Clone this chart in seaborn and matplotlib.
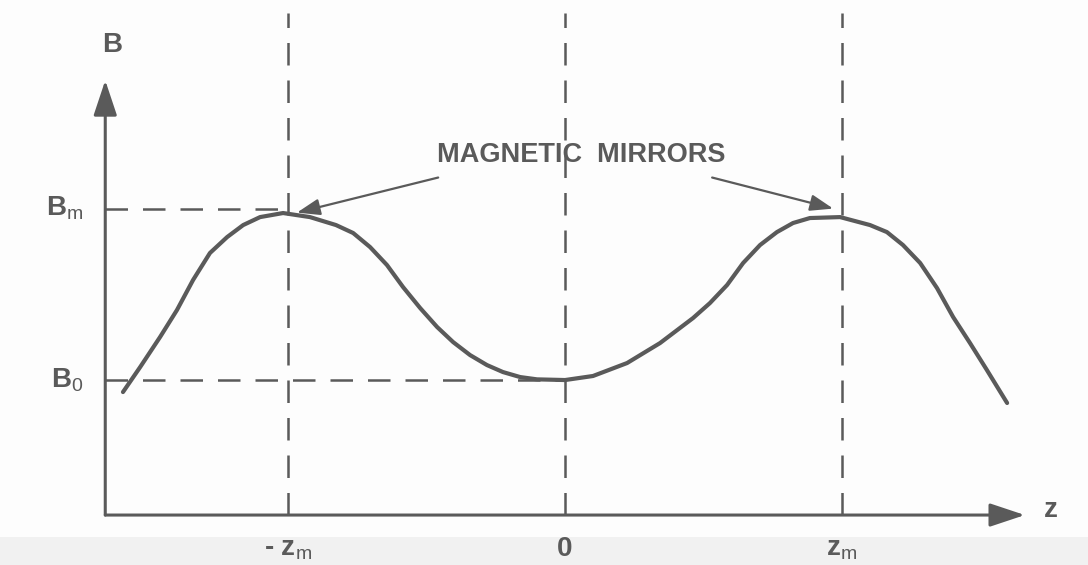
import numpy as np
import pandas as pd
import matplotlib
matplotlib.use("Agg")
import matplotlib.pyplot as plt
from matplotlib.patches import Rectangle
import seaborn as sns

# field profile B(z) (z in units of z_m, B in units of B_0)
z_vals = [-1.596, -1.534, -1.462, -1.401, -1.343, -1.282, -1.220, -1.162, -1.101,
          -1.018, -0.921, -0.827, -0.765, -0.704, -0.643, -0.585, -0.523, -0.462,
          -0.404, -0.343, -0.282, -0.224, -0.162, -0.101, 0.000, 0.101, 0.224,
          0.343, 0.462, 0.523, 0.585, 0.643, 0.704, 0.765, 0.823, 0.884, 0.993,
          1.101, 1.162, 1.220, 1.282, 1.343, 1.401, 1.462, 1.523, 1.596]
b_vals = [0.911, 1.096, 1.319, 1.519, 1.741, 1.941, 2.059, 2.148, 2.207,
          2.237, 2.207, 2.148, 2.089, 1.985, 1.852, 1.689, 1.533, 1.393,
          1.281, 1.185, 1.111, 1.059, 1.022, 1.005, 1.000, 1.030, 1.126,
          1.274, 1.459, 1.570, 1.704, 1.867, 2.000, 2.096, 2.163, 2.200, 2.207,
          2.148, 2.096, 2.000, 1.867, 1.681, 1.467, 1.274, 1.074, 0.830]

B0, Bm = 1.0, 2.27
zm = 1.0
tick_z = [-zm, 0.0, zm]
tick_z_labels = [r"- z$_\mathrm{m}$", "0", r"z$_\mathrm{m}$"]
tick_b = [Bm, B0]
tick_b_labels = [r"B$_\mathrm{m}$", r"B$_0$"]

GRAY = "#5a5a5a"

sns.set_style("white")
plt.rcParams["font.family"] = ["Liberation Sans", "DejaVu Sans"]
plt.rcParams["mathtext.fontset"] = "custom"
plt.rcParams["mathtext.rm"] = "Liberation Sans"

fig = plt.figure(figsize=(10.88, 5.65), dpi=100, facecolor="#fdfdfd")
fig.patches.append(Rectangle((0, 0), 1, 0.05, transform=fig.transFigure,
                             facecolor="#f1f1f1", edgecolor="none", zorder=-5))
ax = fig.add_axes([0, 0, 1, 1])
ax.set_facecolor("none")
ax.set_xlim(-2.04, 1.888)
ax.set_ylim(-0.37, 3.815)
ax.axis("off")

df = pd.DataFrame({"z": z_vals, "B": b_vals})
sns.lineplot(data=df, x="z", y="B", ax=ax, color=GRAY, lw=3.0, zorder=3,
             solid_capstyle="round", solid_joinstyle="round")

# axes with arrows
z_axis0 = -1.66
axis_arrow = dict(arrowstyle="-|>,head_length=1.08,head_width=0.36",
                  mutation_scale=20, lw=2.2, color=GRAY, shrinkA=0, shrinkB=0)
ax.annotate("", xy=(z_axis0, 3.22), xytext=(z_axis0, 0), arrowprops=axis_arrow)
ax.annotate("", xy=(1.66, 0), xytext=(z_axis0, 0), arrowprops=axis_arrow)

# dashed guides
dash = dict(color=GRAY, lw=1.8, dashes=(9, 6))
for zv in tick_z:
    ax.plot([zv, zv], [0, 3.72], **dash)
ax.plot([z_axis0, -zm], [Bm, Bm], **dash)
ax.plot([z_axis0, 0.0], [B0, B0], **dash)

# labels
tfont = dict(color=GRAY, fontweight="bold", fontsize=20)
for zv, lab in zip(tick_z, tick_z_labels):
    ax.text(zv, -0.25, lab, ha="center", va="center", zorder=5, **tfont)
for bv, lab in zip(tick_b, tick_b_labels):
    ax.text(-1.74, bv, lab, ha="right", va="center", **tfont)
ax.text(-1.635, 3.48, "B", ha="center", va="center", **tfont)
ax.text(1.755, 0.04, "z", ha="center", va="center", **tfont)

ax.text(0.058, 2.67, "MAGNETIC  MIRRORS", ha="center", va="center",
        color=GRAY, fontweight="bold", fontsize=19.5)
mirror_arrow = dict(arrowstyle="-|>,head_length=0.7,head_width=0.25",
                    mutation_scale=20, lw=1.6, color=GRAY, shrinkA=0, shrinkB=0)
ax.annotate("", xy=(-0.968, 2.24), xytext=(-0.458, 2.50), arrowprops=mirror_arrow)
ax.annotate("", xy=(0.968, 2.27), xytext=(0.531, 2.50), arrowprops=mirror_arrow)

fig.savefig("out.png", dpi=100, facecolor=fig.get_facecolor())
